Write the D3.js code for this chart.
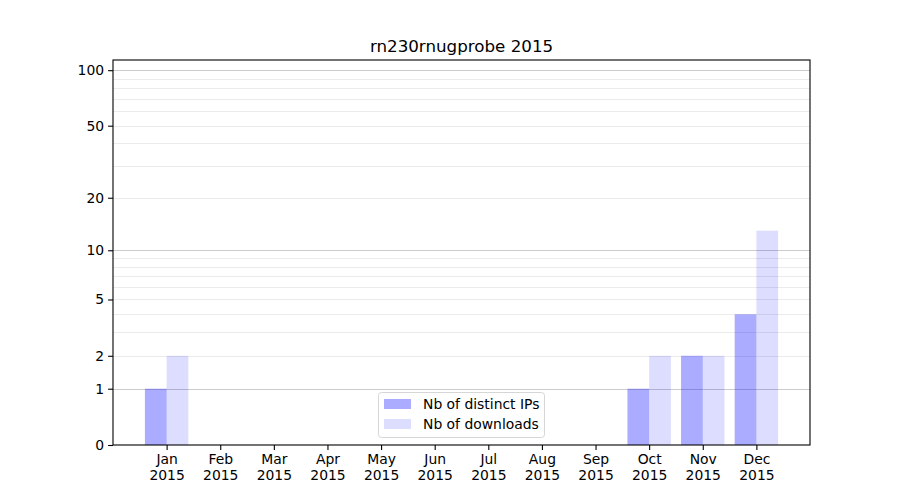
<!DOCTYPE html>
<html><head><meta charset="utf-8">
<script src="https://cdn.jsdelivr.net/npm/d3@7"></script>
<style>body{margin:0;background:#fff;} text{font-family:"DejaVu Sans",sans-serif;}</style>
</head><body>
<svg id="c" width="900" height="500"></svg>
<script>
const months = ["Jan","Feb","Mar","Apr","May","Jun","Jul","Aug","Sep","Oct","Nov","Dec"];
const yearLabel = "2015";
const distinctIPs = [1,0,0,0,0,0,0,0,0,1,2,4];
const downloads   = [2,0,0,0,0,0,0,0,0,2,2,13];
const yTicks = [0,1,2,5,10,20,50,100];
const majorGrid = [1,10,100];
const minorGrid = [2,3,4,5,6,7,8,9,20,30,40,50,60,70,80,90];
const title = "rn230rnugprobe 2015";
const seriesNames = ["Nb of distinct IPs","Nb of downloads"];

const FS = 13.9;
const svg = d3.select("#c");
const L=113,R=810,T=60,B=445;
const x = d3.scalePoint().domain(months).range([L,R]).padding(1);
const y = d3.scaleSymlog().constant(1).domain([0,113.5]).range([B,T]);
const step = x.step();
const bw = step*0.405;

svg.append("rect").attr("x",0).attr("y",0).attr("width",900).attr("height",500).attr("fill","#fff");

// grid
svg.append("g").selectAll("line").data(minorGrid).join("line")
  .attr("x1",L).attr("x2",R).attr("y1",d=>Math.round(y(d))+0.5).attr("y2",d=>Math.round(y(d))+0.5)
  .attr("stroke","#ebebeb").attr("stroke-width",1);
svg.append("g").selectAll("line").data(majorGrid).join("line")
  .attr("x1",L).attr("x2",R).attr("y1",d=>Math.round(y(d))+0.5).attr("y2",d=>Math.round(y(d))+0.5)
  .attr("stroke","#cccccc").attr("stroke-width",1);

// bars
svg.append("g").selectAll("rect").data(distinctIPs).join("rect")
  .attr("x",(d,i)=>x(months[i])-bw).attr("width",bw)
  .attr("y",d=>y(d)).attr("height",d=>B-y(d))
  .attr("fill","#0000ff").attr("fill-opacity",0.33);
svg.append("g").selectAll("rect").data(downloads).join("rect")
  .attr("x",(d,i)=>x(months[i])).attr("width",bw)
  .attr("y",d=>y(d)).attr("height",d=>B-y(d))
  .attr("fill","#0000ff").attr("fill-opacity",0.135);

// frame
svg.append("rect").attr("x",L).attr("y",T).attr("width",R-L).attr("height",B-T)
  .attr("fill","none").attr("stroke","#000").attr("stroke-width",1.1);

// y axis
const ya = svg.append("g").attr("transform",`translate(${L},0)`)
  .call(d3.axisLeft(y).tickValues(yTicks).tickFormat(d3.format("d")).tickSize(4.9).tickPadding(4));
ya.select(".domain").remove();
ya.selectAll("line").attr("stroke-width",1.1);
ya.selectAll("text").attr("font-size",FS).attr("fill","#000").attr("font-family","DejaVu Sans");

// x axis
const xa = svg.append("g").attr("transform",`translate(0,${B})`)
  .call(d3.axisBottom(x).tickSize(4.9).tickPadding(4.5));
xa.select(".domain").remove();
xa.selectAll("line").attr("stroke-width",1.1);
xa.selectAll(".tick text").each(function(d){
  const t=d3.select(this); t.text(null).attr("font-size",FS).attr("fill","#000").attr("font-family","DejaVu Sans");
  t.append("tspan").attr("x",0).attr("dy","0.71em").text(d);
  t.append("tspan").attr("x",0).attr("dy","1.15em").text(yearLabel);
});

// title
svg.append("text").attr("x",(L+R)/2).attr("y",52).attr("text-anchor","middle")
  .attr("font-size",16.7).attr("font-family","DejaVu Sans").text(title);

// legend
const lg = svg.append("g").attr("transform","translate(378,392)");
lg.append("rect").attr("x",0.5).attr("y",0.5).attr("width",166).attr("height",45).attr("rx",3)
  .attr("fill","#fff").attr("fill-opacity",0.8).attr("stroke","#d6d6d6");
seriesNames.forEach((n,i)=>{
  lg.append("rect").attr("x",6).attr("y",7+i*20).attr("width",27).attr("height",10)
    .attr("fill","#0000ff").attr("fill-opacity",i===0?0.33:0.135);
  lg.append("text").attr("x",45).attr("y",17+i*20).attr("font-size",FS).attr("font-family","DejaVu Sans").text(n);
});
</script>
</body></html>
